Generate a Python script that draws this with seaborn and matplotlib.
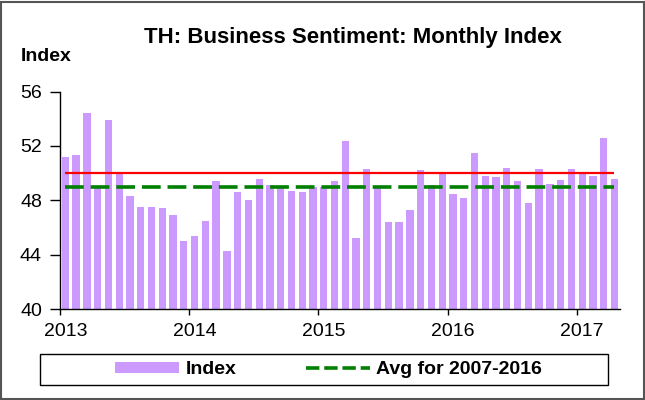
import matplotlib
matplotlib.use("Agg")
import matplotlib.pyplot as plt
import pandas as pd
import seaborn as sns
from matplotlib.lines import Line2D
from matplotlib.patches import Patch, Rectangle

# %%
# data, Jan 2013 - Apr 2017
months = pd.period_range("2013-01", "2017-04", freq="M").astype(str).tolist()
index_values = [
    51.2, 51.3, 54.4, 48.9, 53.9, 49.9, 48.3, 47.5, 47.5, 47.4, 46.9, 45.0,
    45.4, 46.5, 49.4, 44.3, 48.6, 48.0, 49.6, 49.1, 49.0, 48.7, 48.6, 49.0,
    49.0, 49.4, 52.4, 45.2, 50.3, 48.9, 46.4, 46.4, 47.3, 50.2, 49.1, 49.9,
    48.5, 48.2, 51.5, 49.8, 49.7, 50.4, 49.4, 47.8, 50.3, 49.2, 49.5, 50.3,
    50.1, 49.8, 52.6, 49.6,
]
threshold = 50.0
avg_2007_2016 = 48.95
year_labels = ["2013", "2014", "2015", "2016", "2017"]

df = pd.DataFrame({"month": months, "index": index_values})

bar_color = "#CC99FF"
plt.rcParams["font.family"] = ["Liberation Sans", "DejaVu Sans"]

fig = plt.figure(figsize=(6.45, 4.0), dpi=100)
ax = fig.add_axes([0.093, 0.2275, 0.868, 0.5435])

sns.barplot(data=df, x="month", y="index", color=bar_color, saturation=1,
            width=0.68, ax=ax)
ax.hlines(threshold, 0, len(months) - 1, color="red", lw=1.6, zorder=3)
ax.hlines(avg_2007_2016, 0, len(months) - 1, color="#008000", lw=2.6,
          linestyles=(0, (5.2, 1.9)), zorder=3)

ax.set_xlim(-0.5, len(months) - 0.5)
ax.set_ylim(40, 56)
ax.set_yticks([40, 44, 48, 52, 56])

# tick marks on year boundaries, labels under each January bar
ax.set_xticks([i * 12 - 0.5 for i in range(len(year_labels))])
ax.set_xticklabels([])
ax.set_xticks([i * 12 for i in range(len(year_labels))], minor=True)
ax.set_xticklabels(year_labels, minor=True)
ax.set_xlabel("")
ax.set_ylabel("")
ax.tick_params(axis="both", which="both", labelsize=14, colors="black",
               direction="out")
ax.tick_params(axis="y", length=7, width=1, pad=6)
ax.tick_params(axis="x", which="major", length=4, width=1)
ax.tick_params(axis="x", which="minor", length=0, pad=10)
for side in ["top", "right"]:
    ax.spines[side].set_visible(False)
for side in ["left", "bottom"]:
    ax.spines[side].set_color("black")
    ax.spines[side].set_linewidth(1)
ax.set_facecolor("white")

fig.text(352.5 / 645, 1 - 43 / 400, "TH: Business Sentiment: Monthly Index",
         ha="center", va="baseline", fontsize=16, fontweight="bold")
fig.text(21 / 645, 1 - 61 / 400, "Index", ha="left", va="baseline",
         fontsize=14, fontweight="bold")

# legend with its own box
fig.patches.append(Rectangle((40 / 645, 1 - 385 / 400), 568 / 645, 31 / 400,
                             transform=fig.transFigure, fill=False,
                             edgecolor="black", lw=1))
handles = [
    Patch(facecolor=bar_color, edgecolor="none", label="Index"),
    Line2D([], [], color="#008000", lw=2.6, linestyle=(0, (3.7, 1.35)),
           label="Avg for 2007-2016"),
]
fig.legend(handles=handles, loc="center", ncol=2, frameon=False,
           bbox_to_anchor=(328.5 / 645, 1 - 370 / 400),
           prop={"weight": "bold", "size": 14}, handlelength=3.3,
           handleheight=0.45, handletextpad=0.35, columnspacing=3.55,
           borderpad=0, borderaxespad=0)

# outer border of the chart
fig.patches.append(Rectangle((0.001, 0.002), 0.997, 0.994,
                             transform=fig.transFigure, fill=False,
                             edgecolor="#555555", lw=1.5))

plt.savefig("out.png", dpi=100)
